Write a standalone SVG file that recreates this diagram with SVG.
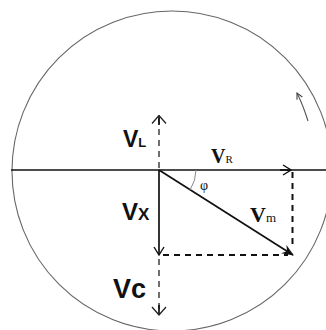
<svg xmlns="http://www.w3.org/2000/svg" width="326" height="330" viewBox="0 0 326 330">
<style>
.ax{stroke:#111;stroke-width:1.7;fill:none}
.dsh{stroke:#111;stroke-width:2;fill:none;stroke-dasharray:6 5}
.dth{stroke:#222;stroke-width:1.3;fill:none;stroke-dasharray:6 5}
.ring{stroke:#666;stroke-width:1.1;fill:none}
.sans{font-family:"Liberation Sans",Arial,sans-serif;font-weight:bold;fill:#111}
.serif{font-family:"Liberation Serif","Times New Roman",serif;fill:#111}
</style>
<defs>
<marker id="open" viewBox="0 0 10 12" refX="9" refY="6" markerWidth="10" markerHeight="12" markerUnits="userSpaceOnUse" orient="auto">
<polyline points="1,1 9,6 1,11" fill="none" stroke="#111" stroke-width="1.4"/>
</marker>
<marker id="openL" viewBox="0 0 10 16" refX="9" refY="8" markerWidth="10" markerHeight="16" markerUnits="userSpaceOnUse" orient="auto">
<polyline points="1,1 9,8 1,15" fill="none" stroke="#222" stroke-width="1.3"/>
</marker>
<marker id="solid" viewBox="0 0 12 10" refX="11" refY="5" markerWidth="12" markerHeight="10" markerUnits="userSpaceOnUse" orient="auto">
<path d="M0,0 L12,5 L0,10 L4,5 Z" fill="#111"/>
</marker>
<marker id="small" viewBox="0 0 8 8" refX="7" refY="4" markerWidth="8" markerHeight="8" markerUnits="userSpaceOnUse" orient="auto">
<polyline points="1,1 7,4 1,7" fill="none" stroke="#444" stroke-width="1.1"/>
</marker>
</defs>
<g id="circle">
<circle class="ring" cx="172" cy="171" r="160"/>
<path d="M308,121 Q303,105 297,93" fill="none" stroke="#555" stroke-width="1.1" marker-end="url(#small)"/>
</g>
<g id="connectors">
<line class="ax" x1="11" y1="170" x2="326" y2="170"/>
<line class="ax" x1="280" y1="170" x2="291" y2="170" marker-end="url(#open)"/>
<line class="ax" x1="159" y1="170" x2="159" y2="255" marker-end="url(#open)"/>
<line class="ax" x1="159" y1="170" x2="293" y2="255" marker-end="url(#solid)"/>
<line class="dsh" x1="163" y1="255" x2="288" y2="255"/>
<line class="dsh" x1="292.5" y1="172" x2="292.5" y2="248"/>
<line class="dth" x1="159" y1="168" x2="159" y2="117"/>
<line class="ax" x1="159" y1="125" x2="159" y2="115.5" marker-end="url(#openL)" stroke-width="1.3"/>
<line class="dth" x1="159" y1="259" x2="159" y2="313"/>
<line class="ax" x1="159" y1="305" x2="159" y2="315" marker-end="url(#openL)" stroke-width="1.3"/>
<path d="M196,170 A37,37 0 0 1 190,190" fill="none" stroke="#888" stroke-width="1"/>
</g>
<g id="VL"><text class="sans" x="123" y="147" font-size="23">V<tspan font-size="13">L</tspan></text></g>
<g id="VX"><text class="sans" x="122" y="220" font-size="24">V<tspan font-size="17">X</tspan></text></g>
<g id="VC"><text class="sans" x="113" y="298" font-size="27">Vc</text></g>
<g id="VR"><text class="serif" x="211" y="163" font-size="20" font-weight="bold">V<tspan font-size="11" font-weight="normal">R</tspan></text></g>
<g id="Vm"><text class="serif" x="250" y="222" font-size="22" font-weight="bold">V<tspan font-size="13" font-weight="normal">m</tspan></text></g>
<g id="phi"><text class="serif" x="200" y="190" font-size="14">φ</text></g>
</svg>
